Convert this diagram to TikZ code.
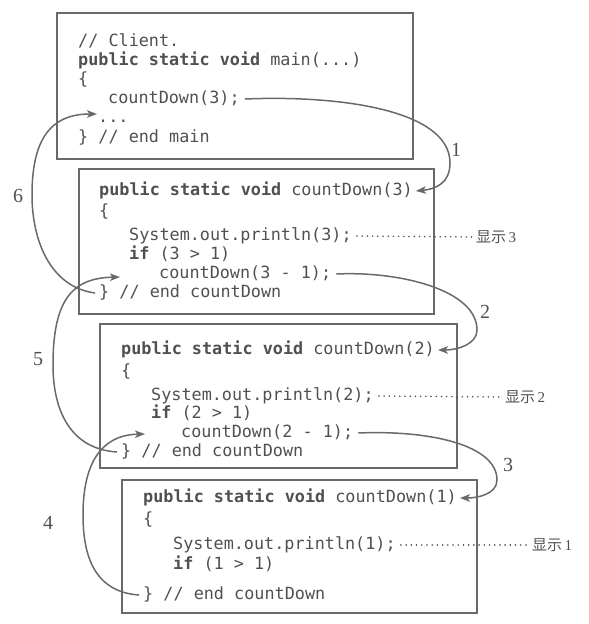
\documentclass[tikz,border=0pt]{standalone}
\usepackage{fontspec}
\setmonofont{DejaVu Sans Mono}
\newfontfamily\cjk{Noto Sans CJK SC}
\newfontfamily\numfont{Liberation Serif}
\usetikzlibrary{arrows.meta}
\definecolor{txt}{RGB}{80,80,80}
\definecolor{ln}{RGB}{105,105,105}
\begin{document}
\begin{tikzpicture}[x=1pt,y=-1pt,
 codeline/.style={anchor=west,inner sep=0pt,text height=12pt,text depth=3.5pt,font=\ttfamily\fontsize{16.8}{20}\selectfont,text=txt},
 frame/.style={draw=ln,line width=2pt,inner sep=0pt},
 callarrow/.style={draw=ln,line width=1.5pt,-{Stealth[length=10pt,width=7.5pt,inset=2.5pt]}},
 numlabel/.style={font=\numfont\fontsize{20}{20}\selectfont,text=txt,inner sep=0pt},
 outlabel/.style={anchor=west,inner sep=0pt,font=\fontsize{15}{15}\selectfont,text=txt},
 leader/.style={draw=txt,line width=1.7pt,dash pattern=on 0.01pt off 5.2pt,line cap=round}]
\useasboundingbox (0,0) rectangle (589,624);
% frames
\node[frame,minimum width=356pt,minimum height=146pt] (box1) at (235,86) {};
\node[frame,minimum width=355pt,minimum height=145pt] (box2) at (256.5,241.5) {};
\node[frame,minimum width=357pt,minimum height=144pt] (box3) at (278.5,396) {};
\node[frame,minimum width=355pt,minimum height=133pt] (box4) at (299.5,546.5) {};
% box 1
\node[codeline] (c1a) at (78,42) {// Client.};
\node[codeline] (c1b) at (78,61) {\textbf{public static void} main(...)};
\node[codeline] (c1c) at (78,80) {\{};
\node[codeline] (c1d) at (108,99) {countDown(3);};
\node[codeline] (c1e) at (98,118) {...};
\node[codeline] (c1f) at (78,138) {\} // end main};
% box 2
\node[codeline] (c2a) at (99,191) {\textbf{public static void} countDown(3)};
\node[codeline] (c2b) at (99,212) {\{};
\node[codeline] (c2c) at (129,236) {System.out.println(3);};
\node[codeline] (c2d) at (129,255) {\textbf{if} (3 > 1)};
\node[codeline] (c2e) at (159,274) {countDown(3 - 1);};
\node[codeline] (c2f) at (99,293) {\} // end countDown};
% box 3
\node[codeline] (c3a) at (121,350) {\textbf{public static void} countDown(2)};
\node[codeline] (c3b) at (121,372) {\{};
\node[codeline] (c3c) at (151,396) {System.out.println(2);};
\node[codeline] (c3d) at (151,414) {\textbf{if} (2 > 1)};
\node[codeline] (c3e) at (181,433) {countDown(2 - 1);};
\node[codeline] (c3f) at (121,452) {\} // end countDown};
% box 4
\node[codeline] (c4a) at (143,498) {\textbf{public static void} countDown(1)};
\node[codeline] (c4b) at (143,520) {\{};
\node[codeline] (c4c) at (173,545) {System.out.println(1);};
\node[codeline] (c4d) at (173,565) {\textbf{if} (1 > 1)};
\node[codeline] (c4f) at (143,595) {\} // end countDown};
% output labels
\node[outlabel] (out3) at (476,237) {{\cjk 显示}\,{\numfont 3}};
\node[outlabel] (out2) at (505,397) {{\cjk 显示}\,{\numfont 2}};
\node[outlabel] (out1) at (532,545) {{\cjk 显示}\,{\numfont 1}};
\draw[leader] ([xshift=5pt]c2c.east) -- ([xshift=-3pt]out3.west);
\draw[leader] ([xshift=5pt]c3c.east) -- ([xshift=-3pt]out2.west);
\draw[leader] ([xshift=5pt]c4c.east) -- ([xshift=-3pt]out1.west);
% step numbers
\node[numlabel] (n1) at (456,150) {1};
\node[numlabel] (n2) at (485,312) {2};
\node[numlabel] (n3) at (508,465) {3};
\node[numlabel] (n4) at (48,523) {4};
\node[numlabel] (n5) at (38,359) {5};
\node[numlabel] (n6) at (18,196) {6};
% call arrows
\coordinate (r1) at (450,163);
\coordinate (r2) at (477,330);
\coordinate (r3) at (497,480);
\draw[callarrow] ([xshift=5pt]c1d.east) .. controls (340,95) and (450,110) .. (r1) .. controls (450,183) and (436,189) .. ([xshift=3pt]c2a.east);
\draw[callarrow] ([xshift=5pt]c2e.east) .. controls (400,271) and (477,290) .. (r2) .. controls (477,344) and (458,350) .. ([xshift=3pt]c3a.east);
\draw[callarrow] ([xshift=5pt]c3e.east) .. controls (430,430) and (497,445) .. (r3) .. controls (497,494) and (478,498) .. ([xshift=3pt]c4a.east);
% return arrows
\coordinate (l6) at (32,195);
\coordinate (l5) at (53,365);
\coordinate (l4) at (83,515);
\coordinate (t6) at (97,114);
\coordinate (t5) at (120,277);
\coordinate (t4) at (145,434);
\draw[callarrow] ([xshift=-4pt]c2f.west) .. controls (50,287) and (32,240) .. (l6) .. controls (32,140) and (50,114) .. (t6);
\draw[callarrow] ([xshift=-4pt]c3f.west) .. controls (70,449) and (53,410) .. (l5) .. controls (53,300) and (72,278) .. (t5);
\draw[callarrow] ([xshift=-4pt]c4f.west) .. controls (97,592) and (83,560) .. (l4) .. controls (83,465) and (100,435) .. (t4);
\end{tikzpicture}
\end{document}
